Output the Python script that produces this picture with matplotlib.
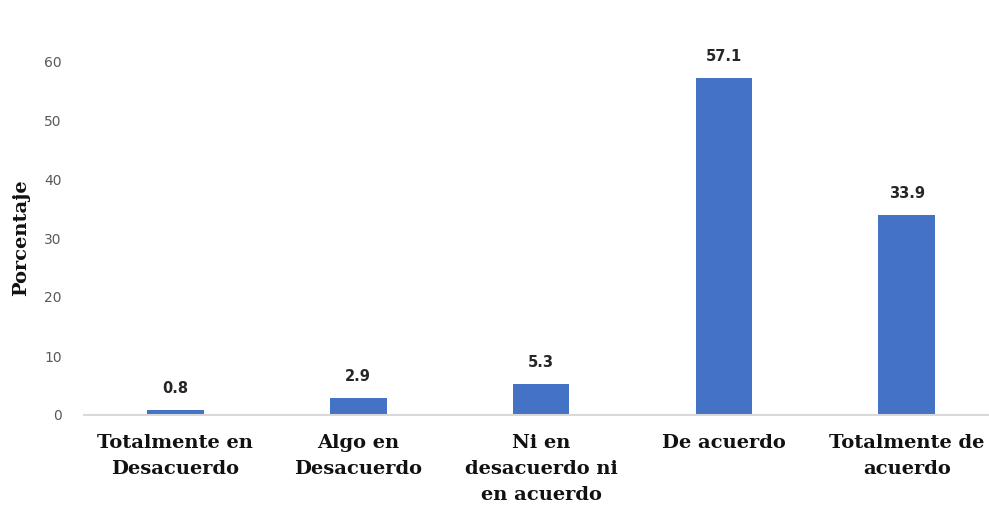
import matplotlib.pyplot as plt

categories = ['Totalmente en\nDesacuerdo', 'Algo en\nDesacuerdo', 'Ni en\ndesacuerdo ni\nen acuerdo',
              'De acuerdo', 'Totalmente de\nacuerdo']
values = [0.8, 2.9, 5.3, 57.1, 33.9]
yticks = [0, 10, 20, 30, 40, 50, 60]

fig = plt.figure(figsize=(9.89, 5.17), dpi=100)
ax = fig.add_axes([84 / 989, 102 / 517, 1 - 84 / 989, 354 / 517])

x = range(len(values))
bars = ax.bar(x, values, width=0.31, color='#4472C4', zorder=2)

ax.set_xlim(-0.5, 4.45)
ax.set_ylim(0, 60)
ax.set_yticks(yticks)
ax.set_yticklabels([str(t) for t in yticks], fontsize=10, color='#595959', family='DejaVu Sans')
ax.tick_params(axis='y', length=0, pad=16)
ax.set_xticks(list(x))
ax.set_xticklabels(categories, fontsize=14, fontweight='bold', family='DejaVu Serif',
                   linespacing=1.55, color='#111111')
ax.tick_params(axis='x', length=0, pad=14)

for s in ['top', 'right', 'left']:
    ax.spines[s].set_visible(False)
ax.spines['bottom'].set_color('#d9d9d9')
ax.spines['bottom'].set_linewidth(1.5)

ax.set_ylabel('Porcentaje', fontsize=14, fontweight='bold', family='DejaVu Serif', color='#111111')
ax.yaxis.set_label_coords(-0.06, 0.5)

for b, v in zip(bars, values):
    ax.annotate(f'{v:.1f}', (b.get_x() + b.get_width() / 2, v), xytext=(0, 10),
                textcoords='offset points', ha='center', va='bottom',
                fontsize=10.5, fontweight='bold', family='DejaVu Sans', color='#262626',
                annotation_clip=False)

plt.savefig('out.png', dpi=100)
